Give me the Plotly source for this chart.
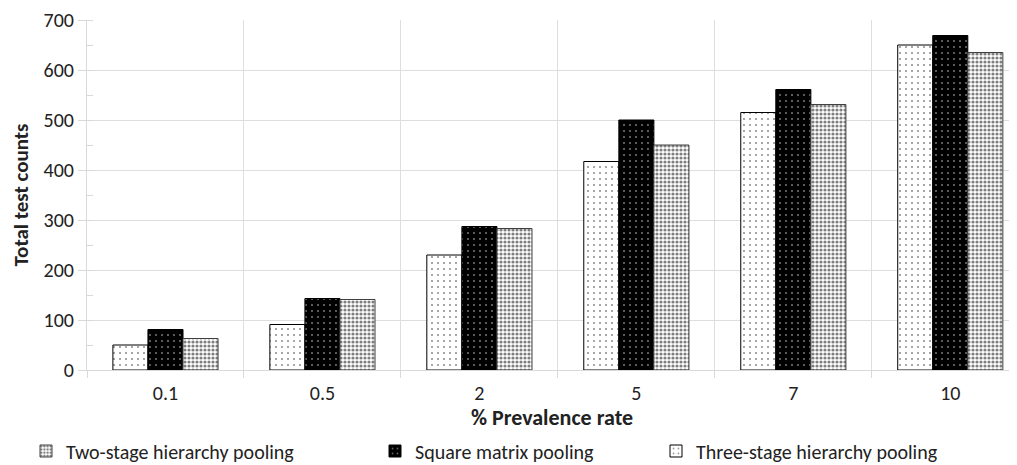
import plotly.graph_objects as go

categories = ["0.1", "0.5", "2", "5", "7", "10"]
three_stage = [50, 91, 230, 417, 515, 650]
square_matrix = [81, 143, 287, 500, 561, 669]
two_stage = [63, 141, 283, 450, 531, 635]

xpos = list(range(len(categories)))
FONT = "Carlito, Calibri, Lato, sans-serif"

fig = go.Figure()
fig.add_trace(go.Bar(
    x=xpos, y=three_stage, name="Three-stage hierarchy pooling", legend="legend4",
    marker=dict(color="white", line=dict(color="black", width=1),
                pattern=dict(shape=".", fgcolor="#222", bgcolor="white", size=6, solidity=0.1)),
))
fig.add_trace(go.Bar(
    x=xpos, y=square_matrix, name="Square matrix pooling", legend="legend3",
    marker=dict(color="black", line=dict(color="black", width=1),
                pattern=dict(shape=".", fgcolor="#dddddd", bgcolor="black", size=6, solidity=0.1)),
))
fig.add_trace(go.Bar(
    x=xpos, y=two_stage, name="Two-stage hierarchy pooling", legend="legend2",
    marker=dict(color="white", line=dict(color="#404040", width=1),
                pattern=dict(shape=".", fgcolor="black", bgcolor="white", size=4, solidity=0.5)),
))

# page body has an 8px margin, so figure is sized to fit the 1017x465 window
W, H = 1009, 457
L, R, T, B = 79, 0, 12, 95

def cx(px):
    return px / W

def cy(py):
    return 1 - py / H

legend_common = dict(orientation="h", yanchor="middle", xanchor="left",
                     xref="container", yref="container",
                     font=dict(family=FONT, size=20, color="#222"),
                     bgcolor="rgba(0,0,0,0)", borderwidth=0)

fig.update_layout(
    width=W, height=H,
    margin=dict(l=L, r=R, t=T, b=B, autoexpand=False),
    paper_bgcolor="white", plot_bgcolor="white",
    barmode="group", bargap=0.33, bargroupgap=0,
    font=dict(family=FONT, size=20, color="#222"),
    showlegend=True,
    legend2=dict(x=cx(18), y=cy(443), **legend_common),
    legend3=dict(x=cx(367), y=cy(443), **legend_common),
    legend4=dict(x=cx(648), y=cy(443), **legend_common),
    xaxis=dict(
        range=[-0.5, 5.425], automargin=False,
        tickmode="array", tickvals=xpos, ticktext=categories,
        ticks="", showgrid=False, zeroline=False,
        showline=True, linecolor="#d9d9d9", linewidth=1,
        ticklabelstandoff=5,
        tickfont=dict(family=FONT, size=20, color="#222"),
        minor=dict(tick0=-0.5, dtick=1, ticks="outside", ticklen=7, tickcolor="#d9d9d9",
                   showgrid=True, gridcolor="#dedede", gridwidth=1),
        title=dict(text="<b>% Prevalence rate</b>", font=dict(family=FONT, size=22, color="#222"), standoff=9),
    ),
    yaxis=dict(
        range=[0, 700], automargin=False, tickmode="linear", tick0=0, dtick=100,
        ticks="outside", ticklen=8, tickcolor="#d9d9d9",
        showgrid=True, gridcolor="#dedede", gridwidth=1,
        zeroline=False, showline=True, linecolor="#d9d9d9", linewidth=1,
        tickfont=dict(family=FONT, size=20, color="#222"),
        minor=dict(dtick=50, tick0=0, ticks="inside", ticklen=6, tickcolor="#d9d9d9", showgrid=False),
        title=dict(text="<b>Total test counts</b>", font=dict(family=FONT, size=21, color="#222"), standoff=24),
    ),
)

fig.write_html("out.html")
